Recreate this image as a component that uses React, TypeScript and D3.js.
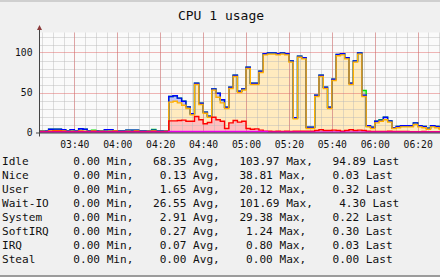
import React from 'react';
import * as d3 from 'd3';

// ---- data (2-minute samples starting 03:24) ----
const startLabel = '03:24';
const stepMinutes = 2;
const title = 'CPU 1 usage';
const xTickLabels = ['03:40', '04:00', '04:20', '04:40', '05:00', '05:20', '05:40', '06:00', '06:20'];
const yTickValues = [0, 50, 100];

const irqValues = [
  0.1,0.1,0.1,0.1,0.1,0.1,0.1,0.1,0.1,0.1, 0.1,0.1,0.1,0.1,0.1,0.1,0.1,0.1,0.1,0.1,
  0.1,0.1,0.1,0.1,0.1,0.1,0.1,0.1,0.1,0.1, 0.1,0.1,0.1,0.1,0.1,0.1,0.1,0.1,0.1,0.1,
  0.1,0.1,0.1,0.1,0.1,0.1,0.1,0.1,0.1,0.1, 0.1,0.1,0.1,0.1,0.1,0.1,0.1,0.1,0.1,0.1,
  0.1,0.1,0.1,0.1,0.1,0.1,0.1,0.1,0.1,0.1, 0.1,0.1,0.1,0.1,0.1,0.1,0.1,0.1,0.1,0.1,
  0.1,0.1,0.1,0.1,0.1,0.1,0.1,0.1,0.1,0.1, 0.1,0.1,0.1,0.1,
];
const softirqValues = [
  0.3,0.3,0.3,0.3,0.3,0.3,0.3,0.3,0.3,0.3, 0.3,0.3,0.3,0.3,0.3,0.3,0.3,0.3,0.3,0.3,
  0.3,0.3,0.3,0.3,0.3,0.3,0.3,0.3,0.3,0.3, 1.2,1.2,1.2,1.2,1.2,1.2,1.2,1.2,1.2,1.2,
  1.2,1.2,1.2,1.2,1.2,1.2,1.2,1.2,1.2,1.2, 1.2,1.2,1.2,0.3,0.3,0.3,0.3,0.3,0.3,0.3,
  0.3,0.3,0.3,0.3,0.3,0.3,0.3,0.3,0.3,0.3, 0.3,0.3,0.3,0.3,0.3,0.3,0.3,0.3,0.3,0.3,
  0.3,0.3,0.3,0.3,0.3,0.3,0.3,0.3,0.3,0.3, 0.3,0.3,0.3,0.3,
];
const systemValues = [
  0.6,0.6,0.8,1.1,1.1,0.8,0.6,0.6,0.6,0.8, 0.6,0.6,0.8,0.6,0.6,0.6,0.6,0.8,0.6,0.6,
  0.6,0.6,0.8,0.6,0.6,0.6,0.8,0.6,0.6,0.6, 13.2,13.2,13.7,14.2,12.7,12.7,18.7,14.7,9.7,11.2,
  17.7,14.7,12.7,3.7,10.7,13.7,11.7,12.7,3.7,2.7, 3.2,1.7,0.2,1.1,0.8,1.1,0.8,1.1,0.8,1.1,
  1.1,1.1,1.1,1.1,2.1,3.1,2.1,2.1,2.6,2.1, 1.1,2.1,3.1,2.1,2.6,2.1,1.1,0.8,0.8,0.8,
  0.8,1.1,0.8,0.8,0.8,0.8,0.6,0.6,0.6,0.8, 0.6,0.6,0.6,0.6,
];
const waitValues = [
  0.5,0.4,0.6,0.8,0.8,0.6,0.4,0.5,0.4,0.6, 0.5,0.4,0.6,0.4,0.5,0.4,0.5,0.6,0.4,0.4,
  0.5,0.4,0.6,0.4,0.4,0.5,0.6,0.4,0.4,0.5, 23.5,24.5,22,18.5,16,8,40,19,13,6.5,
  34,28,23,25,43,55,37,39,75,56, 55.5,72,95.5,96.5,96.8,95.5,96.8,95.5,86.8,15.5,
  92.5,90.5,3.5,3.5,42.5,66.5,52.5,27.5,62,93.5, 95.5,89.5,56.5,85.5,95,42.5,5.5,3.8,10.8,12.8,
  14.8,11.5,3.8,4.8,5.8,5.8,6,9,6,4.8, 3,6,5,3,
];
const userValues = [
  0.5,0.6,2.2,1.9,1.9,1.7,0.6,1.9,0.6,2.8, 2.5,0.6,0.2,0.6,0.5,2.1,2,0.2,0.6,0.6,
  1.5,1.6,1.2,0.6,0.6,0.5,1.2,0.6,0.6,0.5, 7,7,6,5,2,1.5,1.5,1.5,1.5,1.5,
  1.5,5,4,1.5,1.5,1.5,1.5,1.5,1.5,1.5, 1.5,1.5,1.5,1.5,1.5,1.5,1.5,1.5,1.5,1.5,
  1.5,1.5,1.5,1.5,1.5,1.5,1.5,1.5,1.5,1.5, 1.5,1.5,1.5,1.5,1.5,1.5,1.5,1.5,2,1.5,
  3,1.5,1,1.5,1.5,1.5,1.5,2,1.5,1.5, 1.5,1.5,1.5,1.5,
];
const niceValues = [
  0,0,0,0,0,0,0,0,0,0, 0,0,0.8,0,0,0,0,0,0,0,
  0,0,0,0,0,0,0.8,0,0,0, 0,0,0,0,0,0,0,0,0,0,
  0,0,0,0,0,0,0,0,0,0, 0,0,0,0,0,0,0,0,0,0,
  0,0,0,0,0,0,0,0,0,0, 0,0,0,0,0,6,0,0,0,0.5,
  0,0,0,0,0,0,0,0,0,0, 0,0,0,0,
];

const legendNames = ['Idle', 'Nice', 'User', 'Wait-IO', 'System', 'SoftIRQ', 'IRQ', 'Steal'];
const legendMin = [0, 0, 0, 0, 0, 0, 0, 0];
const legendAvg = [68.35, 0.13, 1.65, 26.55, 2.91, 0.27, 0.07, 0.0];
const legendMax = [103.97, 38.81, 20.12, 101.69, 29.38, 1.24, 0.8, 0.0];
const legendLast = [94.89, 0.03, 0.32, 4.3, 0.22, 0.3, 0.03, 0.0];

// ---- styles ----
const layers = [
  { key: 'irq', values: irqValues, fill: '#e7bfe7', stroke: '#a000a0' },
  { key: 'softirq', values: softirqValues, fill: '#ffbfff', stroke: '#ff00ff' },
  { key: 'system', values: systemValues, fill: '#ffbfbf', stroke: '#ff0000' },
  { key: 'wait', values: waitValues, fill: '#ffebbf', stroke: '#ffb000' },
  { key: 'user', values: userValues, fill: '#bfbfff', stroke: '#0000ff' },
  { key: 'nice', values: niceValues, fill: '#bff7bf', stroke: '#00e000' },
];

const W = 440;
const H = 277;
const plotLeft = 40;
const plotRight = 440;
const plotTop = 32.5;
const plotBottom = 132.5;
const mono = '"DejaVu Sans Mono", monospace';

const toMin = (s: string) => {
  const [h, m] = s.split(':').map(Number);
  return h * 60 + m;
};

export default function App() {
  const t0 = toMin(startLabel);
  const x = d3.scaleLinear().domain([0, 186.4]).range([plotLeft, plotRight]);
  const y = d3.scaleLinear().domain([0, 125]).range([plotBottom, plotTop]);

  const n = irqValues.length;
  const rows = d3.range(n + 1).map((i) => {
    const r: any = { t: i * stepMinutes };
    layers.forEach((l) => (r[l.key] = l.values[Math.min(i, n - 1)]));
    return r;
  });
  const stack = d3.stack<any>().keys(layers.map((l) => l.key));
  const series = stack(rows);

  const area = d3
    .area<any>()
    .x((d) => x(d.data.t))
    .y0(y(0))
    .y1((d) => y(d[1]))
    .curve(d3.curveStepAfter);
  const line = d3
    .line<any>()
    .x((d) => x(d.data.t))
    .y((d) => y(d[1]))
    .curve(d3.curveStepAfter);

  const order = series.map((s, i) => ({ s, l: layers[i] })).reverse();

  const minorX = d3.range(1, 187, 5).map((m) => x(m));
  const majorXMinutes = xTickLabels.map((s) => toMin(s) - t0);
  const minorY = d3.range(10, 126, 10).filter((v) => v % 50 !== 0);

  const cw = 6.7;
  const gap = 19.4;
  const pad5 = (v: number) => v.toFixed(2).padStart(5, ' ');

  return (
    <div style={{ position: 'absolute', left: 0, top: 0 }}>
      <svg width={W} height={H} style={{ display: 'block' }}>
        <defs>
          <clipPath id="plotClip">
            <rect x={plotLeft} y={plotTop - 8} width={plotRight - plotLeft} height={plotBottom - plotTop + 8} />
          </clipPath>
        </defs>
        <rect x={0} y={0} width={W} height={H} fill="#f0f0f0" />
        <rect x={0} y={0} width={W} height={2} fill="#cfcfcf" />
        <rect x={0} y={275} width={W} height={2} fill="#9c9c9c" />
        <text x={221} y={20} textAnchor="middle" fontFamily={mono} fontSize={13} fill="#111">
          {title}
        </text>
        <rect x={plotLeft} y={plotTop} width={plotRight - plotLeft} height={plotBottom - plotTop} fill="#fafafa" />
        <g clipPath="url(#plotClip)">
          {order.map(({ s, l }) => (
            <path key={'a' + l.key} d={area(s as any) || ''} fill={l.fill} />
          ))}
          {minorX.map((px, i) => (
            <line key={'mx' + i} x1={Math.round(px) + 0.5} x2={Math.round(px) + 0.5} y1={plotTop} y2={plotBottom}
              stroke="#b8b8b8" strokeOpacity={0.45} />
          ))}
          {minorY.map((v) => (
            <line key={'my' + v} x1={plotLeft} x2={plotRight} y1={Math.round(y(v)) + 0.5} y2={Math.round(y(v)) + 0.5}
              stroke="#b8b8b8" strokeOpacity={0.45} />
          ))}
          {majorXMinutes.map((m, i) => (
            <line key={'Mx' + i} x1={Math.round(x(m)) + 0.5} x2={Math.round(x(m)) + 0.5} y1={plotTop} y2={plotBottom}
              stroke="#e06060" strokeOpacity={0.45} />
          ))}
          {[50, 100].map((v) => (
            <line key={'My' + v} x1={plotLeft} x2={plotRight} y1={Math.round(y(v)) + 0.5} y2={Math.round(y(v)) + 0.5}
              stroke="#e06060" strokeOpacity={0.45} />
          ))}
          {order.map(({ s, l }) => (
            <path key={'l' + l.key} d={line(s as any) || ''} fill="none" stroke={l.stroke} strokeWidth={1.4} />
          ))}
        </g>
        {/* axes */}
        <line x1={36} x2={W} y1={plotBottom + 0.5} y2={plotBottom + 0.5} stroke="#444" strokeWidth={1} />
        <line x1={plotLeft - 0.5} x2={plotLeft - 0.5} y1={136.5} y2={28} stroke="#444" strokeWidth={1} />
        <path d={`M${plotLeft - 0.5},25 L${plotLeft - 3},30 L${plotLeft + 2},30 Z`} fill="#8a3a3a" />
        {yTickValues.map((v) => (
          <text key={'yl' + v} x={32.5} y={y(v) + 3.5} textAnchor="end" fontFamily={mono} fontSize={9.7} fill="#111">
            {v}
          </text>
        ))}
        {xTickLabels.map((s, i) => (
          <text key={'xl' + i} x={x(majorXMinutes[i]) + 0.5} y={148} textAnchor="middle" fontFamily={mono} fontSize={9.7} fill="#111">
            {s}
          </text>
        ))}
        {/* legend */}
        {legendNames.map((name, i) => {
          const by = 165.3 + i * 14;
          const items = [
            `${pad5(legendMin[i])} Min,`,
            `${pad5(legendAvg[i])} Avg,`,
            `${pad5(legendMax[i])} Max,`,
            `${pad5(legendLast[i])} Last`,
          ];
          let cx = 66.6;
          const els = items.map((it, k) => {
            const el = (
              <text key={k} x={cx} y={by} fontFamily={mono} fontSize={11.1} fill="#111" style={{ whiteSpace: 'pre' }}>
                {it}
              </text>
            );
            cx += it.length * cw + gap;
            return el;
          });
          return (
            <g key={name}>
              <text x={2} y={by} fontFamily={mono} fontSize={11.1} fill="#111">
                {name}
              </text>
              {els}
            </g>
          );
        })}
      </svg>
    </div>
  );
}
